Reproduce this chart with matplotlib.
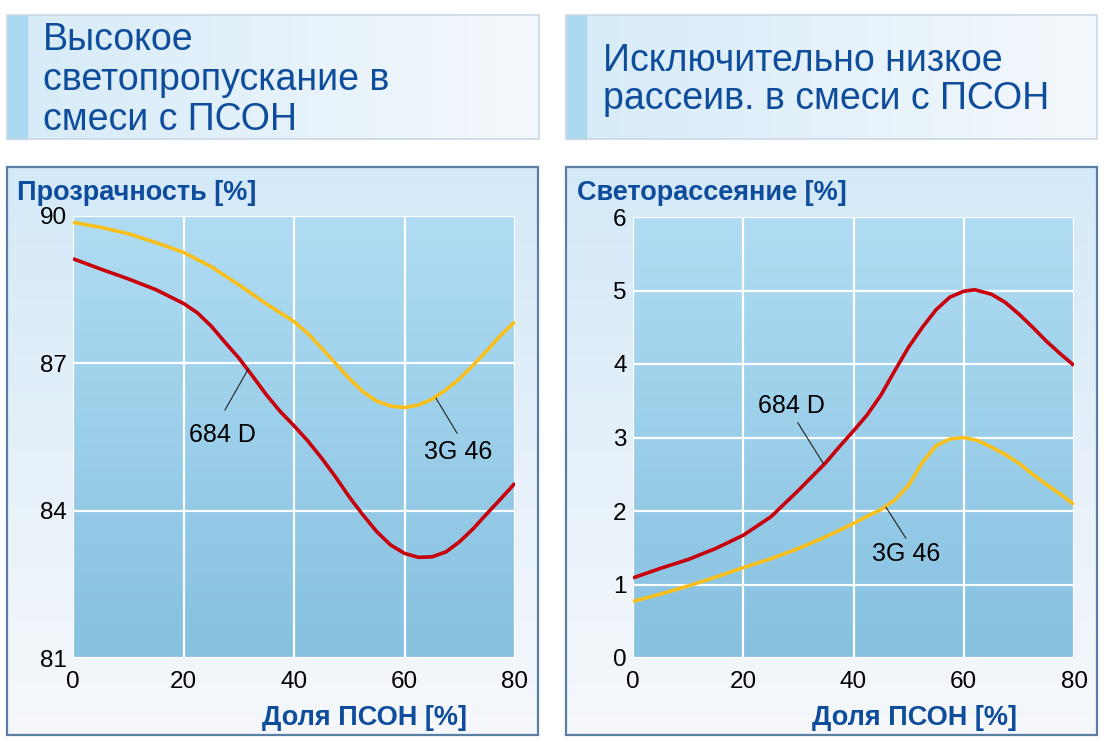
import numpy as np
import matplotlib
matplotlib.use("Agg")
from matplotlib import pyplot as plt
from matplotlib.patches import Rectangle
from matplotlib.colors import to_rgb

plt.rcParams['font.family'] = ['Liberation Sans', 'DejaVu Sans']

# --- data ---
# left chart: transparency [%] vs PSON share [%]
x_trans_3g46 = [0, 5, 10, 15, 20, 25, 30, 35, 40, 42.5, 45, 47.5, 50, 52.5,
                55, 57.5, 60, 62.5, 65, 67.5, 70, 72.5, 75, 77.5, 80]
trans_3g46 = [89.87, 89.77, 89.64, 89.46, 89.26, 88.97, 88.6, 88.21, 87.85,
              87.61, 87.31, 87.0, 86.69, 86.42, 86.23, 86.13, 86.1, 86.15,
              86.27, 86.46, 86.69, 86.97, 87.27, 87.58, 87.85]
x_trans_684d = [0, 5, 10, 15, 20, 22.5, 25, 27.5, 30, 32.5, 35, 37.5, 40,
                42.5, 45, 47.5, 50, 52.5, 55, 57.5, 60, 62.5, 65, 67.5, 70,
                72.5, 75, 77.5, 80]
trans_684d = [89.13, 88.92, 88.72, 88.5, 88.22, 88.03, 87.76, 87.43, 87.11,
              86.74, 86.36, 86.02, 85.73, 85.42, 85.07, 84.69, 84.28, 83.91,
              83.57, 83.3, 83.13, 83.05, 83.06, 83.16, 83.37, 83.64, 83.95,
              84.25, 84.56]

# right chart: light scattering [%] vs PSON share [%]
x_scat_684d = [0, 5, 10, 15, 20, 25, 30, 35, 37.5, 40, 42.5, 45, 47.5, 50,
               52.5, 55, 57.5, 60, 62, 65, 67.5, 70, 72.5, 75, 77.5, 80]
scat_684d = [1.09, 1.22, 1.34, 1.49, 1.67, 1.92, 2.28, 2.66, 2.88, 3.09, 3.31,
             3.58, 3.91, 4.23, 4.5, 4.74, 4.91, 4.99, 5.01, 4.95, 4.84, 4.68,
             4.5, 4.31, 4.14, 3.98]
x_scat_3g46 = [0, 5, 10, 15, 20, 25, 30, 35, 40, 42.5, 45, 47.5, 50, 52.5,
               55, 57.5, 60, 62.5, 65, 67.5, 70, 72.5, 75, 77.5, 80]
scat_3g46 = [0.77, 0.87, 0.98, 1.1, 1.23, 1.35, 1.49, 1.65, 1.83, 1.93, 2.02,
             2.15, 2.35, 2.66, 2.89, 2.98, 3.0, 2.96, 2.87, 2.77, 2.65, 2.5,
             2.36, 2.23, 2.09]

x_ticks = [0, 20, 40, 60, 80]
trans_ticks = [81, 84, 87, 90]
scat_ticks = [0, 1, 2, 3, 4, 5, 6]

RED = '#c8000b'
YELLOW = '#f9c01b'
BLUE_TXT = '#0e4c9c'

W, H = 1104, 749
fig = plt.figure(figsize=(W / 100, H / 100), dpi=100)

bg = fig.add_axes([0, 0, 1, 1])
bg.set_xlim(0, W)
bg.set_ylim(H, 0)
bg.axis('off')


def grad(c0, c1, n=256, horizontal=False):
    t = np.linspace(0, 1, n)
    a, b = np.array(to_rgb(c0)), np.array(to_rgb(c1))
    g = a[None, :] * (1 - t[:, None]) + b[None, :] * t[:, None]
    if horizontal:
        return g[None, :, :]
    return g[:, None, :]


def header(x0, x1, y0, y1):
    bg.imshow(grad('#d6ebf8', '#f4f8fc', horizontal=True),
              extent=(x0, x1, y1, y0), aspect='auto', zorder=1)
    bg.add_patch(Rectangle((x0, y0), 20, y1 - y0, color='#a9d8f0', zorder=2))
    bg.add_patch(Rectangle((x0, y0), x1 - x0, y1 - y0, fill=False,
                           edgecolor='#c9d8e5', lw=1.2, zorder=3))


def chart_box(x0, x1, y0, y1):
    bg.imshow(grad('#d4e9f8', '#f6f8fb'), extent=(x0, x1, y1, y0),
              aspect='auto', zorder=1)
    bg.add_patch(Rectangle((x0, y0), x1 - x0, y1 - y0, fill=False,
                           edgecolor='#5a7ea4', lw=1.6, zorder=3))


header(7, 539, 15, 139)
header(566, 1097, 15, 139)
chart_box(7, 538, 167, 735)
chart_box(566, 1097, 167, 735)

bg.text(43, 80, 'Высокое\nсветопропускание в\nсмеси с ПСОН', fontsize=27,
        color=BLUE_TXT, va='center', ha='left', linespacing=1.13, zorder=4)
bg.text(603, 80, 'Исключительно низкое\nрассеив. в смеси с ПСОН', fontsize=27,
        color=BLUE_TXT, va='center', ha='left', linespacing=1.1, zorder=4)

title_kw = dict(fontsize=19.5, fontweight='bold', color=BLUE_TXT,
                va='center', zorder=4)
bg.text(17, 193, 'Прозрачность [%]', ha='left', **title_kw)
bg.text(577, 193, 'Светорассеяние [%]', ha='left', **title_kw)
bg.text(364, 718, 'Доля ПСОН [%]', ha='center', **title_kw)
bg.text(914, 718, 'Доля ПСОН [%]', ha='center', **title_kw)


def plot_axes(px0, px1, py0, py1, ylim, yticks):
    ax = fig.add_axes([px0 / W, 1 - py1 / H, (px1 - px0) / W, (py1 - py0) / H])
    ax.set_facecolor('none')
    ax.imshow(grad('#b0dcf3', '#86c1e0'), extent=(0, 80, ylim[0], ylim[1]),
              aspect='auto', zorder=0)
    ax.set_xlim(0, 80)
    ax.set_ylim(*ylim)
    ax.set_xticks(x_ticks)
    ax.set_yticks(yticks)
    ax.grid(True, color='white', lw=1.6, zorder=1)
    ax.set_axisbelow(False)
    for s in ax.spines.values():
        s.set_visible(False)
    ax.tick_params(length=0, labelsize=17.5, labelcolor='black')
    ax.tick_params(axis='x', pad=9)
    ax.tick_params(axis='y', pad=4.5)
    return ax


line_kw = dict(lw=2.6, zorder=3, solid_capstyle='butt', solid_joinstyle='round')
lead_kw = dict(color='#222222', lw=0.8, zorder=4)
note_kw = dict(fontsize=18, ha='center', va='center', zorder=4)

ax1 = plot_axes(73, 515, 216, 658, (81, 90), trans_ticks)
ax1.plot(x_trans_684d, trans_684d, color=RED, **line_kw)
ax1.plot(x_trans_3g46, trans_3g46, color=YELLOW, **line_kw)
ax1.plot([27.5, 31.7], [86.05, 86.88], **lead_kw)
ax1.text(27.1, 85.55, '684 D', **note_kw)
ax1.plot([69.5, 65.7], [85.58, 86.29], **lead_kw)
ax1.text(69.7, 85.2, '3G 46', **note_kw)

ax2 = plot_axes(633, 1074, 217, 658, (0, 6), scat_ticks)
ax2.plot(x_scat_684d, scat_684d, color=RED, **line_kw)
ax2.plot(x_scat_3g46, scat_3g46, color=YELLOW, **line_kw)
ax2.plot([29.9, 34.5], [3.2, 2.65], **lead_kw)
ax2.text(28.8, 3.43, '684 D', **note_kw)
ax2.plot([49.5, 45.9], [1.63, 2.05], **lead_kw)
ax2.text(49.5, 1.41, '3G 46', **note_kw)

fig.savefig('out.png', dpi=100)
